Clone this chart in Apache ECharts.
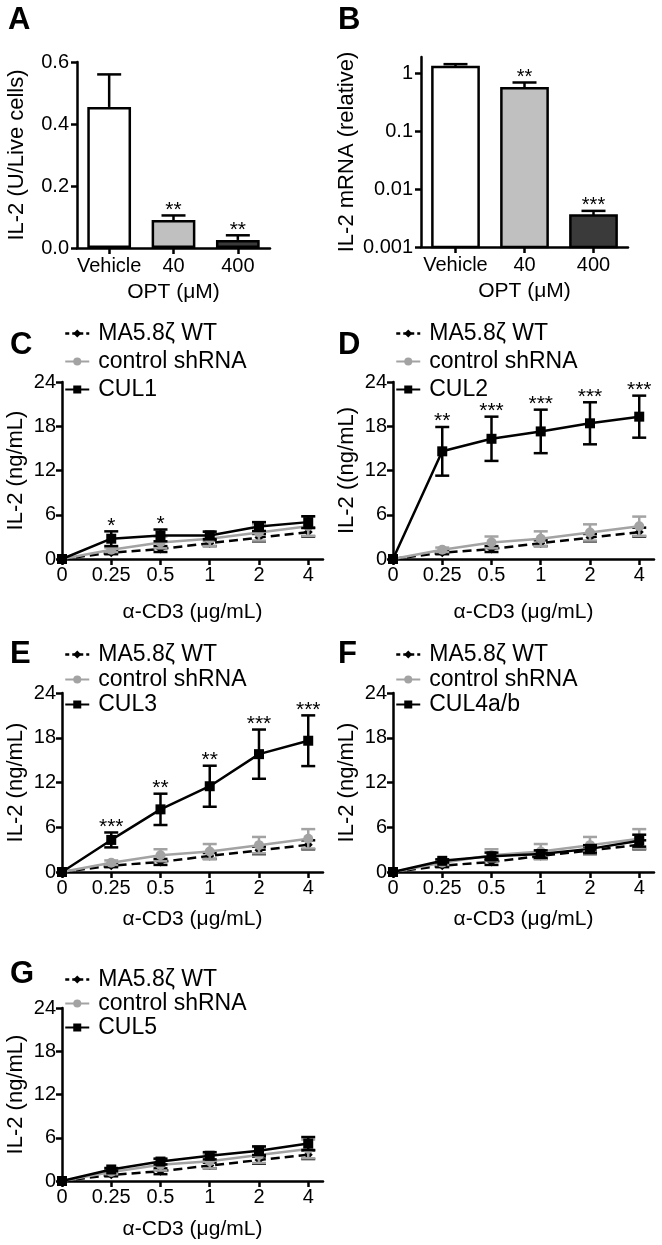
<!DOCTYPE html>
<html><head><meta charset="utf-8">
<script src="https://cdn.jsdelivr.net/npm/echarts@6/dist/echarts.min.js"></script>
<style>html,body{margin:0;padding:0;background:#fff}#c{width:662px;height:1245px}</style>
</head><body><div id="c"></div>
<script>
// ---- Data ----
const barCats = ['Vehicle', '40', '400'];
const aMean = [0.455, 0.09, 0.026];
const aErr = [0.105, 0.015, 0.015];
const aStars = ['', '**', '**'];
const bMean = [1.28, 0.55, 0.0035];
const bErr = [0.15, 0.14, 0.0007];
const bStars = ['', '**', '***'];
const barColors = ['#ffffff', '#c0c0c0', '#3a3a3a'];

const xLabels = ['0', '0.25', '0.5', '1', '2', '4'];
const wtMean = [0, 0.85, 1.35, 2.15, 2.9, 3.65];
const wtErr = [0, 0.2, 0.4, 0.4, 0.5, 0.6];
const ctrlMean = [0, 1.25, 2.25, 2.75, 3.6, 4.45];
const ctrlErr = [0, 0.3, 0.8, 1.0, 1.1, 1.3];
const cul1Mean = [0, 2.75, 3.2, 3.2, 4.4, 5.0];
const cul1Err = [0, 1.0, 0.8, 0.5, 0.6, 0.8];
const cul1Stars = ['', '*', '*', '', '', ''];
const cul2Mean = [0, 14.6, 16.3, 17.3, 18.4, 19.3];
const cul2Err = [0, 3.3, 3.0, 2.95, 2.85, 2.85];
const cul2Stars = ['', '**', '***', '***', '***', '***'];
const cul3Mean = [0, 4.3, 8.4, 11.5, 15.8, 17.6];
const cul3Err = [0, 1.0, 2.1, 2.75, 3.3, 3.4];
const cul3Stars = ['', '***', '**', '**', '***', '***'];
const cul4Mean = [0, 1.5, 2.1, 2.4, 3.1, 4.2];
const cul4Err = [0, 0.2, 0.5, 0.5, 0.5, 0.8];
const cul5Mean = [0, 1.6, 2.7, 3.5, 4.2, 5.2];
const cul5Err = [0, 0.2, 0.4, 0.5, 0.6, 0.9];
const noStars = ['', '', '', '', '', ''];

// ---- Styling ----
const FONT = '"Liberation Sans", Arial, sans-serif';
const GRAY = '#a3a3a3';
const AX = { lineStyle: { color: '#000', width: 2.5 } };
const TICK = { show: true, length: 6, lineStyle: { color: '#000', width: 2.5 } };
const LBL = { color: '#000', fontSize: 20, fontFamily: FONT, margin: 6 };
const YNAME = { color: '#000', fontSize: 22, fontFamily: FONT };
const XNAME = { color: '#000', fontSize: 21, fontFamily: FONT };
const STARFS = 21;

const chart = echarts.init(document.getElementById('c'), null, { renderer: 'canvas', width: 662, height: 1245 });

const grids = [], xAxes = [], yAxes = [], series = [], legends = [];

function errSeries(ax, mean, err, color, capW, upOnly, z) {
  return {
    type: 'custom', xAxisIndex: ax, yAxisIndex: ax, z: z, silent: true,
    data: mean.map((m, i) => [i, m, err[i]]),
    renderItem: (p, api) => {
      const x = api.value(0), m = api.value(1), e = api.value(2);
      if (!e) return;
      const top = api.coord([x, m + e]);
      const bot = upOnly ? api.coord([x, m]) : api.coord([x, m - e]);
      const st = { stroke: color, lineWidth: 2.5 };
      const ch = [
        { type: 'line', shape: { x1: top[0], y1: top[1], x2: bot[0], y2: bot[1] }, style: st },
        { type: 'line', shape: { x1: top[0] - capW / 2, y1: top[1], x2: top[0] + capW / 2, y2: top[1] }, style: st }
      ];
      if (!upOnly) ch.push({ type: 'line', shape: { x1: bot[0] - capW / 2, y1: bot[1], x2: bot[0] + capW / 2, y2: bot[1] }, style: st });
      return { type: 'group', children: ch };
    }
  };
}
function starSeries(ax, mean, err, stars, fs) {
  return {
    type: 'custom', xAxisIndex: ax, yAxisIndex: ax, z: 20, silent: true,
    data: mean.map((m, i) => [i, m + err[i], stars[i]]),
    renderItem: (p, api) => {
      const s = stars[p.dataIndex];
      if (!s) return;
      const pt = api.coord([api.value(0), api.value(1)]);
      return { type: 'text', x: pt[0], y: pt[1] + 5, style: { text: s, textAlign: 'center', textVerticalAlign: 'bottom', fontSize: fs, fontFamily: FONT, fill: '#000' } };
    }
  };
}

// ---- Panel A ----
grids.push({ left: 77, top: 62, width: 193, height: 186 });
xAxes.push({ type: 'category', gridIndex: 0, data: barCats, axisLine: AX, axisTick: Object.assign({ alignWithLabel: true }, TICK),
  axisLabel: Object.assign({}, LBL, { interval: 0, margin: 8 }),
  name: 'OPT (μM)', nameLocation: 'middle', nameGap: 34, nameTextStyle: XNAME });
yAxes.push({ type: 'value', gridIndex: 0, min: 0, max: 0.6, interval: 0.2, axisLine: Object.assign({ show: true }, AX), axisTick: TICK,
  axisLabel: Object.assign({}, LBL, { margin: 8, formatter: v => v.toFixed(1) }), splitLine: { show: false },
  name: 'IL-2 (U/Live cells)', nameLocation: 'middle', nameGap: 49, nameTextStyle: YNAME });
series.push({ type: 'bar', xAxisIndex: 0, yAxisIndex: 0, barWidth: '68%', z: 5,
  data: aMean.map((v, i) => ({ value: v, itemStyle: { color: barColors[i], borderColor: '#000', borderWidth: 2.5 } })) });
series.push(errSeries(0, aMean, aErr, '#000', 24, true, 4));
series.push(starSeries(0, aMean, aErr, aStars, STARFS));

// ---- Panel B ----
grids.push({ left: 421, top: 57, width: 207, height: 190 });
xAxes.push({ type: 'category', gridIndex: 1, data: barCats, axisLine: AX, axisTick: Object.assign({ alignWithLabel: true }, TICK),
  axisLabel: Object.assign({}, LBL, { interval: 0, margin: 8 }),
  name: 'OPT (μM)', nameLocation: 'middle', nameGap: 34, nameTextStyle: XNAME });
yAxes.push({ type: 'log', gridIndex: 1, min: 0.001, max: 1.9, logBase: 10, axisLine: Object.assign({ show: true }, AX), axisTick: TICK,
  axisLabel: Object.assign({}, LBL, { margin: 8, formatter: v => String(+Number(v).toPrecision(1)) }), splitLine: { show: false }, minorTick: { show: false },
  name: 'IL-2 mRNA (relative)', nameLocation: 'middle', nameGap: 63, nameTextStyle: YNAME });
series.push({ type: 'custom', xAxisIndex: 1, yAxisIndex: 1, z: 5,
  data: bMean.map((v, i) => [i, v]),
  renderItem: (p, api) => {
    const i = api.value(0), v = api.value(1);
    const w = api.size([1, 0])[0] * 0.67;
    const top = api.coord([i, v]), bot = api.coord([i, 0.001]);
    return { type: 'rect', shape: { x: top[0] - w / 2, y: top[1], width: w, height: bot[1] - top[1] },
      style: { fill: barColors[p.dataIndex], stroke: '#000', lineWidth: 2.5 } };
  } });
series.push(errSeries(1, bMean, bErr, '#000', 24, true, 4));
series.push(starSeries(1, bMean, bErr, bStars, STARFS - 1));

// ---- Line panels ----
function linePanel(g, cul, mean, err, stars, yName, xGap, legendPos) {
  const idx = grids.length;
  grids.push(g);
  xAxes.push({ type: 'value', gridIndex: idx, min: 0, max: 5.3, axisLine: AX,
    axisTick: Object.assign({ customValues: [0, 1, 2, 3, 4, 5] }, TICK),
    axisLabel: Object.assign({}, LBL, { customValues: [0, 1, 2, 3, 4, 5], formatter: v => xLabels[Math.round(v)] }),
    splitLine: { show: false }, name: 'α-CD3 (μg/mL)', nameLocation: 'middle', nameGap: xGap, nameTextStyle: XNAME });
  yAxes.push({ type: 'value', gridIndex: idx, min: 0, max: 24, interval: 6, axisLine: Object.assign({ show: true }, AX), axisTick: TICK,
    axisLabel: LBL, splitLine: { show: false },
    name: yName, nameLocation: 'middle', nameGap: 35, nameTextStyle: YNAME });
  series.push(errSeries(idx, wtMean, wtErr, '#000', 14, false, 2));
  series.push({ type: 'line', name: 'MA5.8ζ WT', xAxisIndex: idx, yAxisIndex: idx, z: 3,
    data: wtMean.map((v, i) => [i, v]), symbol: 'diamond', symbolSize: 9, showSymbol: true,
    lineStyle: { color: '#000', width: 2.5, type: [9, 5] }, itemStyle: { color: '#000' } });
  series.push(errSeries(idx, ctrlMean, ctrlErr, GRAY, 14, false, 4));
  series.push({ type: 'line', name: 'control shRNA', xAxisIndex: idx, yAxisIndex: idx, z: 5,
    data: ctrlMean.map((v, i) => [i, v]), symbol: 'circle', symbolSize: 10,
    lineStyle: { color: GRAY, width: 2.5 }, itemStyle: { color: GRAY } });
  series.push(errSeries(idx, mean, err, '#000', 14, false, 6));
  series.push({ type: 'line', name: cul, xAxisIndex: idx, yAxisIndex: idx, z: 7,
    data: mean.map((v, i) => [i, v]), symbol: 'rect', symbolSize: 10,
    lineStyle: { color: '#000', width: 2.5 }, itemStyle: { color: '#000' } });
  series.push(starSeries(idx, mean, err, stars, STARFS));
  legends.push({
    data: [{ name: 'MA5.8ζ WT', lineStyle: { type: [4, 3], width: 2.5, color: '#000' } }, 'control shRNA', cul],
    orient: 'vertical', left: legendPos[0], top: legendPos[1],
    padding: 0, itemWidth: 24, itemHeight: 10, itemGap: legendPos[2], selectedMode: false,
    textStyle: { color: '#000', fontSize: 23, fontFamily: FONT, padding: [0, 0, 0, 4] } });
}
linePanel({ left: 62, top: 382, width: 261, height: 177 }, 'CUL1', cul1Mean, cul1Err, cul1Stars, 'IL-2 (ng/mL)', 43, [64, 322, 5]);
linePanel({ left: 393, top: 382, width: 261, height: 177 }, 'CUL2', cul2Mean, cul2Err, cul2Stars, 'IL-2 ((ng/mL)', 43, [395, 322, 5]);
linePanel({ left: 62, top: 693, width: 261, height: 179 }, 'CUL3', cul3Mean, cul3Err, cul3Stars, 'IL-2 (ng/mL)', 37, [64, 643, 2]);
linePanel({ left: 393, top: 693, width: 261, height: 179 }, 'CUL4a/b', cul4Mean, cul4Err, noStars, 'IL-2 (ng/mL)', 37, [395, 643, 2]);
linePanel({ left: 62, top: 1008, width: 261, height: 173 }, 'CUL5', cul5Mean, cul5Err, noStars, 'IL-2 (ng/mL)', 38, [64, 968, 1]);

// ---- Panel letters ----
const letters = [['A', 8, 21], ['B', 338, 21], ['C', 10, 346], ['D', 338, 346], ['E', 10, 655], ['F', 338, 655], ['G', 10, 975]];
const graphic = letters.map(l => ({ type: 'text', left: l[1], top: l[2] - 16,
  style: { text: l[0], fontSize: 31, fontWeight: 'bold', fontFamily: FONT, fill: '#000' } }));

chart.setOption({
  animation: false, backgroundColor: '#fff',
  grid: grids, xAxis: xAxes, yAxis: yAxes, series: series, legend: legends, graphic: graphic
});
</script></body></html>
